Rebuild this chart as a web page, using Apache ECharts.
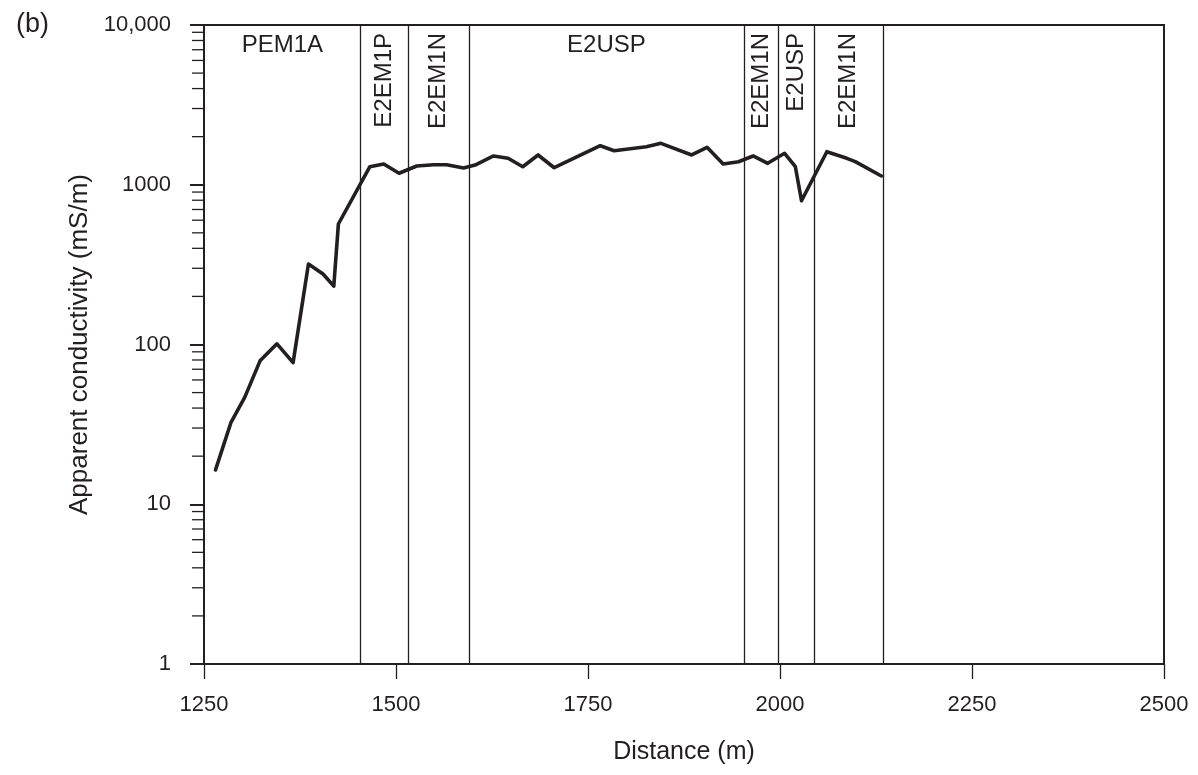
<!DOCTYPE html>
<html>
<head>
<meta charset="utf-8">
<script src="https://cdn.jsdelivr.net/npm/echarts@6/dist/echarts.min.js"></script>
<style>
  html, body { margin: 0; padding: 0; background: #ffffff; }
  #chart { width: 1198px; height: 775px; }
</style>
</head>
<body>
<div id="chart"></div>
<script>
// ---- data ----
const distance = [1265, 1285, 1303, 1323, 1345, 1366, 1386, 1405, 1419, 1425,
  1466, 1484, 1504, 1527, 1549, 1566, 1588, 1603, 1627, 1646,
  1665, 1685, 1706, 1766, 1784, 1826, 1845, 1885, 1905, 1926,
  1946, 1965, 1984, 2006, 2020, 2028, 2061, 2087, 2098, 2132];
const conductivity = [16.4, 32.4, 46.7, 79, 101, 77, 319, 276, 232, 568,
  1297, 1349, 1180, 1310, 1335, 1335, 1273, 1329, 1514, 1464,
  1297, 1536, 1278, 1756, 1634, 1730, 1817, 1536, 1715, 1349,
  1394, 1514, 1362, 1574, 1297, 794, 1610, 1464, 1394, 1135];

const regionBoundaries = [1250, 1454, 1516, 1595, 1953, 1998, 2044, 2135];
const regionNames = ['PEM1A', 'E2EM1P', 'E2EM1N', 'E2USP', 'E2EM1N', 'E2USP', 'E2EM1N'];
const regionVertical = [false, true, true, false, true, true, true];

const xTicks = [1250, 1500, 1750, 2000, 2250, 2500];
const xTickLabels = ['1250', '1500', '1750', '2000', '2250', '2500'];
const yTicks = [1, 10, 100, 1000, 10000];
const yTickLabels = ['1', '10', '100', '1000', '10,000'];
const yMinorTicks = [2, 3, 4, 5, 6, 7, 8, 9,
  20, 30, 40, 50, 60, 70, 80, 90,
  200, 300, 400, 500, 600, 700, 800, 900,
  2000, 3000, 4000, 5000, 6000, 7000, 8000, 9000];

// ---- chart ----
const ink = '#231f20';
const fontFamily = '"Liberation Sans", Arial, Helvetica, sans-serif';
const chart = echarts.init(document.getElementById('chart'), null, { renderer: 'canvas' });

const lineData = distance.map((d, i) => [d, conductivity[i]]);
const regionLabelData = regionNames.map((n, i) => [
  (regionBoundaries[i] + regionBoundaries[i + 1]) / 2, yTicks[yTicks.length - 1], i
]);
const minorTickData = yMinorTicks.map(v => [xTicks[0], v]);

function labelFor(ticks, labels, v) {
  for (let i = 0; i < ticks.length; i++) {
    if (Math.abs(ticks[i] - v) < 1e-6 * Math.max(1, ticks[i])) return labels[i];
  }
  return String(v);
}

chart.setOption({
  animation: false,
  backgroundColor: '#ffffff',
  title: {
    text: '(b)',
    left: 11,
    top: 6,
    textStyle: { fontSize: 27, fontWeight: 'normal', color: ink, fontFamily: fontFamily }
  },
  grid: {
    left: 204, right: 34, top: 25, bottom: 111,
    show: true, borderColor: ink, borderWidth: 2, backgroundColor: 'transparent'
  },
  xAxis: {
    type: 'value',
    min: xTicks[0], max: xTicks[xTicks.length - 1], interval: 250,
    name: 'Distance (m)',
    nameLocation: 'middle',
    nameGap: 76,
    nameTextStyle: { fontSize: 25, color: ink, fontFamily: fontFamily },
    axisLine: { show: true, lineStyle: { color: ink, width: 2 } },
    axisTick: { show: true, inside: false, length: 15, lineStyle: { color: ink, width: 1.3 } },
    axisLabel: {
      fontSize: 22, color: ink, margin: 30, fontFamily: fontFamily,
      formatter: v => labelFor(xTicks, xTickLabels, v)
    },
    splitLine: { show: false }
  },
  yAxis: {
    type: 'log',
    logBase: 10,
    min: yTicks[0], max: yTicks[yTicks.length - 1],
    splitNumber: 4,
    name: 'Apparent conductivity (mS/m)',
    nameLocation: 'middle',
    nameGap: 97,
    nameRotate: 90,
    nameTextStyle: { fontSize: 26, color: ink, fontFamily: fontFamily },
    axisLine: { show: true, lineStyle: { color: ink, width: 2 } },
    axisTick: { show: true, inside: false, length: 14, lineStyle: { color: ink, width: 2 } },
    axisLabel: {
      fontSize: 22, color: ink, margin: 33, fontFamily: fontFamily,
      formatter: v => labelFor(yTicks, yTickLabels, v)
    },
    splitLine: { show: false }
  },
  series: [
    {
      type: 'line',
      data: lineData,
      symbol: 'none',
      smooth: false,
      lineStyle: { color: ink, width: 3.6, join: 'round', cap: 'round' },
      z: 5,
      markLine: {
        silent: true,
        symbol: ['none', 'none'],
        label: { show: false },
        lineStyle: { color: ink, width: 1.3, type: 'solid' },
        data: regionBoundaries.slice(1).map(b => ({ xAxis: b }))
      }
    },
    {
      type: 'custom',
      data: regionLabelData,
      silent: true,
      z: 6,
      renderItem: function (params, api) {
        const p = api.coord([api.value(0), api.value(1)]);
        const i = api.value(2);
        const vertical = regionVertical[i];
        return {
          type: 'text',
          x: p[0],
          y: p[1] + 8,
          rotation: vertical ? Math.PI / 2 : 0,
          style: {
            text: regionNames[i],
            fill: ink,
            font: '24px ' + fontFamily,
            align: vertical ? 'right' : 'center',
            verticalAlign: vertical ? 'middle' : 'top'
          }
        };
      }
    },
    {
      type: 'custom',
      data: minorTickData,
      silent: true,
      clip: false,
      z: 6,
      renderItem: function (params, api) {
        const p = api.coord([api.value(0), api.value(1)]);
        return {
          type: 'line',
          shape: { x1: p[0] - 12, y1: p[1], x2: p[0], y2: p[1] },
          style: { stroke: ink, lineWidth: 1.3 }
        };
      }
    }
  ]
});
</script>
</body>
</html>
